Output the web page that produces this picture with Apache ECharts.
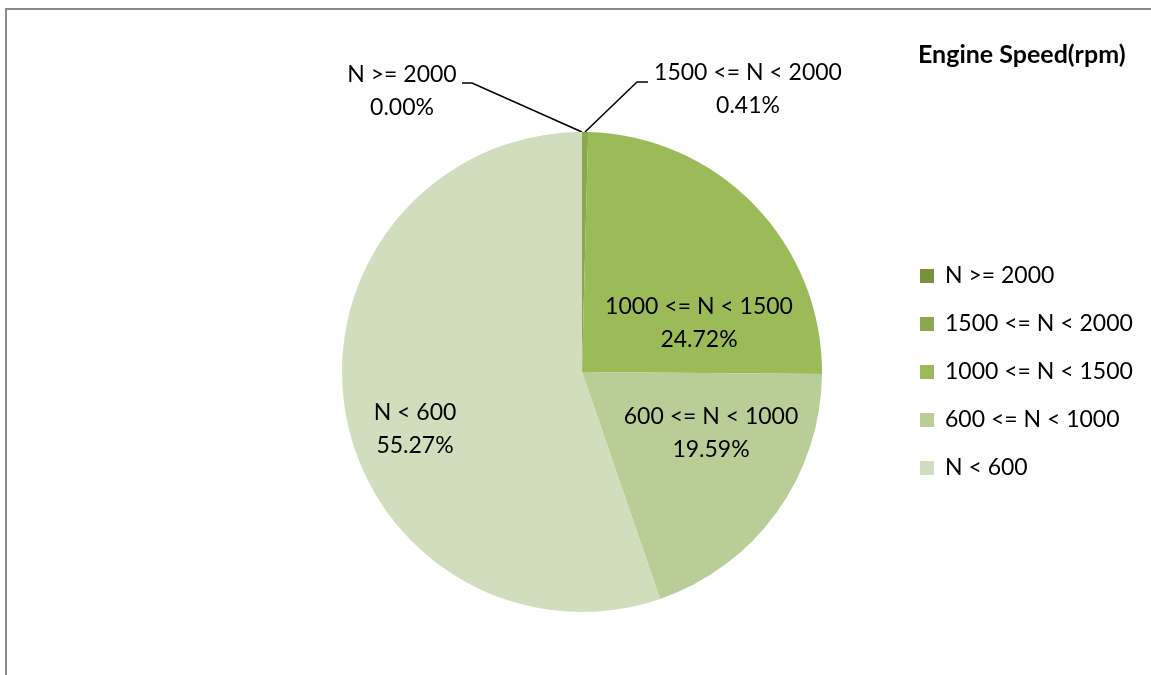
<!DOCTYPE html>
<html>
<head>
<meta charset="utf-8">
<script src="https://cdn.jsdelivr.net/npm/echarts@6/dist/echarts.min.js"></script>
<style>
  html, body { margin: 0; padding: 0; background: #fff; }
  #chart-container { width: 1151px; height: 675px; }
</style>
</head>
<body>
<div id="chart-container"></div>
<script>
const categories = ["N >= 2000", "1500 <= N < 2000", "1000 <= N < 1500", "600 <= N < 1000", "N < 600"];
const shares = [0.0, 0.41, 24.72, 19.59, 55.27];
const colors = ["#76923c", "#8aa84e", "#9bbb59", "#b9cd96", "#d1debd"];

const FONT = "Lato, 'Liberation Sans', sans-serif";
const cx = 582, cy = 372, r = 240;

// label centres
const labelSpots = [
  { x: 402, y: 91 },
  { x: 748, y: 89 },
  { x: 699, y: 323 },
  { x: 711, y: 433 },
  { x: 415, y: 429 },
];

const chart = echarts.init(document.getElementById("chart-container"));

const option = {
  animation: false,
  title: {
    text: "Engine Speed(rpm)",
    left: 918,
    top: 42,
    padding: 0,
    textStyle: { fontFamily: FONT, fontWeight: "bold", fontSize: 25, color: "#000" },
  },
  legend: {
    orient: "vertical",
    left: 920,
    top: 261,
    padding: 0,
    icon: "rect",
    itemWidth: 14,
    itemHeight: 14,
    itemGap: 18,
    data: categories,
    textStyle: { fontFamily: FONT, fontSize: 23, color: "#000", lineHeight: 30, padding: [0, 0, 0, 6] },
  },
  graphic: [
    {
      type: "rect",
      shape: { x: 6, y: 9, width: 1300, height: 800 },
      style: { fill: "none", stroke: "#8a8a8a", lineWidth: 2 },
      silent: true,
    },
  ],
  series: [
    {
      type: "pie",
      center: [cx, cy],
      radius: [0, r],
      startAngle: 90,
      clockwise: true,
      minAngle: 0,
      avoidLabelOverlap: false,
      stillShowZeroSum: true,
      itemStyle: { borderWidth: 0 },
      label: {
        show: true,
        position: "inside",
        formatter: (p) => p.name + "\n" + p.value.toFixed(2) + "%",
        fontFamily: FONT,
        fontSize: 23,
        lineHeight: 33,
        color: "#000",
        align: "center",
      },
      labelLine: { show: true, lineStyle: { color: "#000", width: 1.5 } },
      labelLayout: (params) => {
        const s = labelSpots[params.dataIndex];
        const out = { x: s.x, y: s.y, align: "center", verticalAlign: "middle" };
        if (params.dataIndex === 0) {
          out.labelLinePoints = [[cx, cy - r], [472, 83], [462, 83]];
        } else if (params.dataIndex === 1) {
          out.labelLinePoints = [[cx + 3, cy - r], [637, 82], [648, 82]];
        }
        return out;
      },
      data: categories.map((name, i) => {
        const d = { name: name, value: shares[i], itemStyle: { color: colors[i] } };
        if (i < 2) {
          d.label = { position: "outside" };
          d.labelLine = { show: true, length: 10, length2: 10 };
        } else {
          d.labelLine = { show: false };
        }
        return d;
      }),
    },
  ],
};

chart.setOption(option);
</script>
</body>
</html>
